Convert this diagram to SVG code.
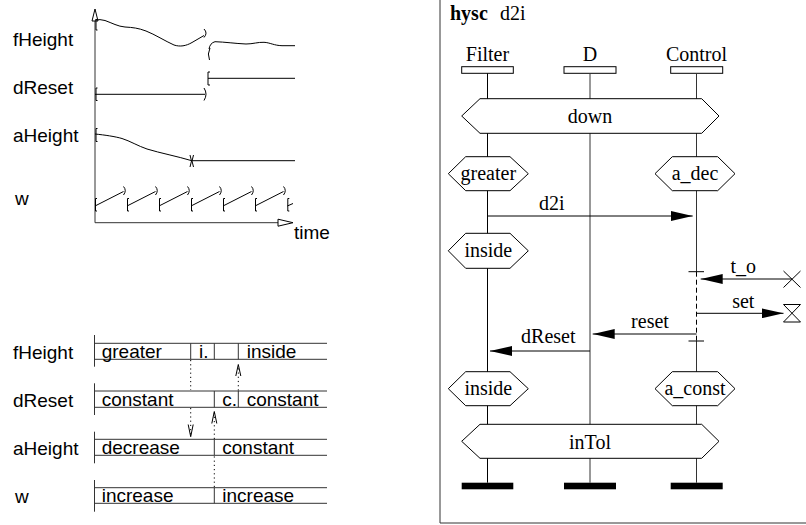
<svg xmlns="http://www.w3.org/2000/svg" width="806" height="525" viewBox="0 0 806 525">
<style>
.ln{stroke:#000;stroke-width:1;fill:none}
.gl{stroke:#333;stroke-width:1;fill:none}
.dot{stroke:#000;stroke-width:1;fill:none;stroke-dasharray:1.2 3}
.dash{stroke:#000;stroke-width:1;fill:none;stroke-dasharray:5 3}
.hex{stroke:#000;stroke-width:1;fill:#fff}
.sans{font-family:"Liberation Sans",Arial,sans-serif;font-size:19px;fill:#000}
.serif{font-family:"Liberation Serif","Times New Roman",serif;font-size:20px;fill:#000}
.mid{text-anchor:middle}
.bar{fill:#000}
</style>
<defs>
<marker id="ah" markerUnits="userSpaceOnUse" markerWidth="22" markerHeight="10" refX="22" refY="5" orient="auto">
<path d="M0,0 L22,5 L0,10 z" fill="#000"/>
</marker>
</defs>
<rect x="0" y="0" width="806" height="525" fill="#fff"/>

<!-- Top-left timing chart -->
<g id="timing-chart">
<text class="sans" x="13" y="46">fHeight</text>
<text class="sans" x="13" y="94">dReset</text>
<text class="sans" x="13" y="142">aHeight</text>
<text class="sans" x="15" y="205">w</text>
<path class="gl" d="M95,21 L95,222.7 L278,222.7"/>
<polygon points="95,9 92,21 98,21" fill="#fff" stroke="#000"/>
<polygon points="293,222.7 278,219.2 278,226.2" fill="#fff" stroke="#000"/>
<text class="sans" x="294" y="239">time</text>
<!-- fHeight -->
<path class="ln" d="M95,20 Q100,19 105,20.5 C112,23 118,26.5 125,27 C133,27.5 138,28 146,31 C155,34.5 165,41 174,45 C180,47 186,46 192,42.5 L204,35.5"/>
<path class="ln" d="M97.5,19.5 L96,19.5 L96,30 L97.5,30"/>
<path class="ln" d="M204,29 Q208,33 204,37.5"/>
<path class="ln" d="M209,49 Q210,43 215,41.7 C225,42 235,43.5 246,44 C253,44 258,42 264,42.3 C270,42.6 274,45.5 282,45.7 L295,45.7"/>
<path class="ln" d="M210,48 Q207,54 209.5,60"/>
<!-- dReset -->
<path class="ln" d="M95,94.3 L205,94.3"/>
<path class="ln" d="M97.5,88 L96,88 L96,100.5 L97.5,100.5"/>
<path class="ln" d="M204,88 Q208,94 204,100.5"/>
<path class="ln" d="M208,78.3 L295,78.3"/>
<path class="ln" d="M210,72 L208,72 L208,85 L210,85"/>
<!-- aHeight -->
<path class="ln" d="M95,134 C105,135 115,136.5 122,138.5 C130,141 138,146 147,149 C160,153 178,156.5 191.7,160.7 L295,160.7"/>
<path class="ln" d="M97.5,128.5 L96,128.5 L96,141.5 L97.5,141.5"/>
<path class="ln" d="M190,155 Q193,161 190,167 M193.5,155 Q190.5,161 193.5,167"/>
<!-- w -->
<path class="ln" d="M95,206 L123.5,191.5 M127,206 L155.5,191.5 M159,206 L187.5,191.5 M191,206 L219.5,191.5 M223,206 L251.5,191.5 M255,206 L283.5,191.5 M287.3,206 L293,203.5"/>
<path class="ln" d="M97,198.5 L95.5,198.5 L95.5,211 L97,211 M129,198.5 L127.5,198.5 L127.5,211 L129,211 M161,198.5 L159.5,198.5 L159.5,211 L161,211 M193,198.5 L191.5,198.5 L191.5,211 L193,211 M225,198.5 L223.5,198.5 L223.5,211 L225,211 M257,198.5 L255.5,198.5 L255.5,211 L257,211 M289.3,198.5 L287.8,198.5 L287.8,211 L289.3,211"/>
<path class="ln" d="M123.5,186.5 Q127,190.5 123.5,195 M155.5,186.5 Q159,190.5 155.5,195 M187.5,186.5 Q191,190.5 187.5,195 M219.5,186.5 Q223,190.5 219.5,195 M251.5,186.5 Q255,190.5 251.5,195 M283.5,186.5 Q287,190.5 283.5,195"/>
</g>

<!-- Bottom-left state bars -->
<g id="state-bars">
<text class="sans" x="13" y="359">fHeight</text>
<text class="sans" x="13" y="407">dReset</text>
<text class="sans" x="13" y="455">aHeight</text>
<text class="sans" x="15" y="503">w</text>
<!-- fHeight row -->
<path class="gl" d="M94.5,335 L94.5,366.7 M94.5,343.3 L327,343.3 M94.5,359.3 L327,359.3 M190.7,343.3 L190.7,359.3 M214.3,343.3 L214.3,359.3 M238.3,343.3 L238.3,359.3"/>
<text class="sans" x="101.7" y="358">greater</text>
<text class="sans" x="199" y="358">i.</text>
<text class="sans" x="246.7" y="358">inside</text>
<!-- dReset row -->
<path class="gl" d="M94.5,383.3 L94.5,415 M94.5,391 L327,391 M94.5,407.3 L327,407.3 M214.3,391 L214.3,407.3 M238.3,391 L238.3,407.3"/>
<text class="sans" x="101.7" y="406">constant</text>
<text class="sans" x="222.3" y="406">c.</text>
<text class="sans" x="246.7" y="406">constant</text>
<!-- aHeight row -->
<path class="gl" d="M94.5,431.7 L94.5,463.3 M94.5,439.3 L327,439.3 M94.5,455.3 L327,455.3 M214.3,439.3 L214.3,455.3"/>
<text class="sans" x="101.7" y="454">decrease</text>
<text class="sans" x="222.3" y="454">constant</text>
<!-- w row -->
<path class="gl" d="M94.5,480 L94.5,511.7 M94.5,487.7 L327,487.7 M94.5,503.3 L327,503.3 M214.3,487.7 L214.3,503.3"/>
<text class="sans" x="101.7" y="502">increase</text>
<text class="sans" x="222.3" y="502">increase</text>
</g>
<g id="state-arrows">
<path class="dot" d="M190.7,360 L190.7,390 M190.7,408 L190.7,436"/>
<path class="ln" d="M188.2,424.5 L190.7,436.7 L193.2,424.5"/>
<path class="dot" d="M214.3,487 L214.3,456 M214.3,439 L214.3,412"/>
<path class="ln" d="M211.8,423.5 L214.3,411.5 L216.8,423.5"/>
<path class="dot" d="M238.3,390.5 L238.3,366"/>
<path class="ln" d="M235.8,376 L238.3,364.5 L240.8,376"/>
</g>

<!-- Right: MSC frame -->
<g id="frame">
<path class="gl" d="M440,0 L440,523 L806,523"/>
<text class="serif" x="450" y="20" font-weight="bold">hysc</text>
<text class="serif" x="500" y="20">d2i</text>
</g>

<g id="instance-filter">
<text class="serif mid" x="487.5" y="61">Filter</text>
<rect x="461.7" y="66.7" width="51.6" height="6.6" fill="#fff" stroke="#000"/>
<path class="ln" d="M487.5,73.3 L487.5,482.7"/>
<rect class="bar" x="461.7" y="482.7" width="51.6" height="6.6"/>
</g>
<g id="instance-d">
<text class="serif mid" x="590" y="61">D</text>
<rect x="564" y="66.7" width="52" height="6.6" fill="#fff" stroke="#000"/>
<path class="gl" d="M590,73.3 L590,482.7"/>
<rect class="bar" x="564" y="482.7" width="52" height="6.6"/>
</g>
<g id="instance-control">
<text class="serif mid" x="696.5" y="61">Control</text>
<rect x="670.7" y="66.7" width="52" height="6.6" fill="#fff" stroke="#000"/>
<path class="gl" d="M696.5,73.3 L696.5,271.7 M696.5,341 L696.5,482.7"/>
<path class="dash" d="M696.5,271.7 L696.5,341"/>
<path class="ln" d="M688.5,271.7 L704,271.7 M688.5,341 L704,341"/>
<rect class="bar" x="670.7" y="482.7" width="52" height="6.6"/>
</g>

<g id="cond-down">
<polygon class="hex" points="461.7,116 480,98.7 701.7,98.7 719,116 701.7,133.3 480,133.3"/>
<text class="serif mid" x="590" y="122.7">down</text>
</g>
<g id="cond-greater">
<polygon class="hex" points="448.3,173.7 465.7,156.7 510,156.7 528.3,173.7 510,190.7 465.7,190.7"/>
<text class="serif mid" x="488.3" y="180">greater</text>
</g>
<g id="cond-a_dec">
<polygon class="hex" points="655,173.7 672.3,156.7 717.7,156.7 735,173.7 717.7,190.7 672.3,190.7"/>
<text class="serif mid" x="695" y="180">a_dec</text>
</g>
<g id="cond-inside1">
<polygon class="hex" points="448.3,250.8 465.7,233.3 510,233.3 528.3,250.8 510,268.3 465.7,268.3"/>
<text class="serif mid" x="488.3" y="257">inside</text>
</g>
<g id="cond-inside2">
<polygon class="hex" points="448.3,388.7 465.7,371.7 510,371.7 528.3,388.7 510,405.7 465.7,405.7"/>
<text class="serif mid" x="488.3" y="395">inside</text>
</g>
<g id="cond-a_const">
<polygon class="hex" points="655,388.7 672.3,371.7 717.7,371.7 735,388.7 717.7,405.7 672.3,405.7"/>
<text class="serif mid" x="695" y="395">a_const</text>
</g>
<g id="cond-inTol">
<polygon class="hex" points="461.7,441.3 480,424.3 701.7,424.3 719,441.3 701.7,458.3 480,458.3"/>
<text class="serif mid" x="590" y="448.5">inTol</text>
</g>

<g id="timer-t_o">
<path class="ln" d="M783.5,271 L800.5,287.5 M800.5,271 L783.5,287.5"/>
</g>
<g id="timer-set">
<path class="ln" d="M783.5,304.5 L800.5,304.5 L783.5,322 L800.5,322 Z"/>
</g>

<g id="connectors">
<path class="ln" d="M487.5,216 L692.7,216" marker-end="url(#ah)"/>
<text class="serif mid" x="551.7" y="210">d2i</text>
<path class="ln" d="M792,279 L700.7,279" marker-end="url(#ah)"/>
<text class="serif mid" x="743.3" y="273">t_o</text>
<path class="ln" d="M696.5,313.3 L783.5,313.3" marker-end="url(#ah)"/>
<text class="serif mid" x="743.3" y="308.3">set</text>
<path class="ln" d="M696.5,334 L592.7,334" marker-end="url(#ah)"/>
<text class="serif mid" x="650" y="328.3">reset</text>
<path class="ln" d="M590,351 L490,351" marker-end="url(#ah)"/>
<text class="serif mid" x="548.3" y="343.3">dReset</text>
</g>
</svg>
